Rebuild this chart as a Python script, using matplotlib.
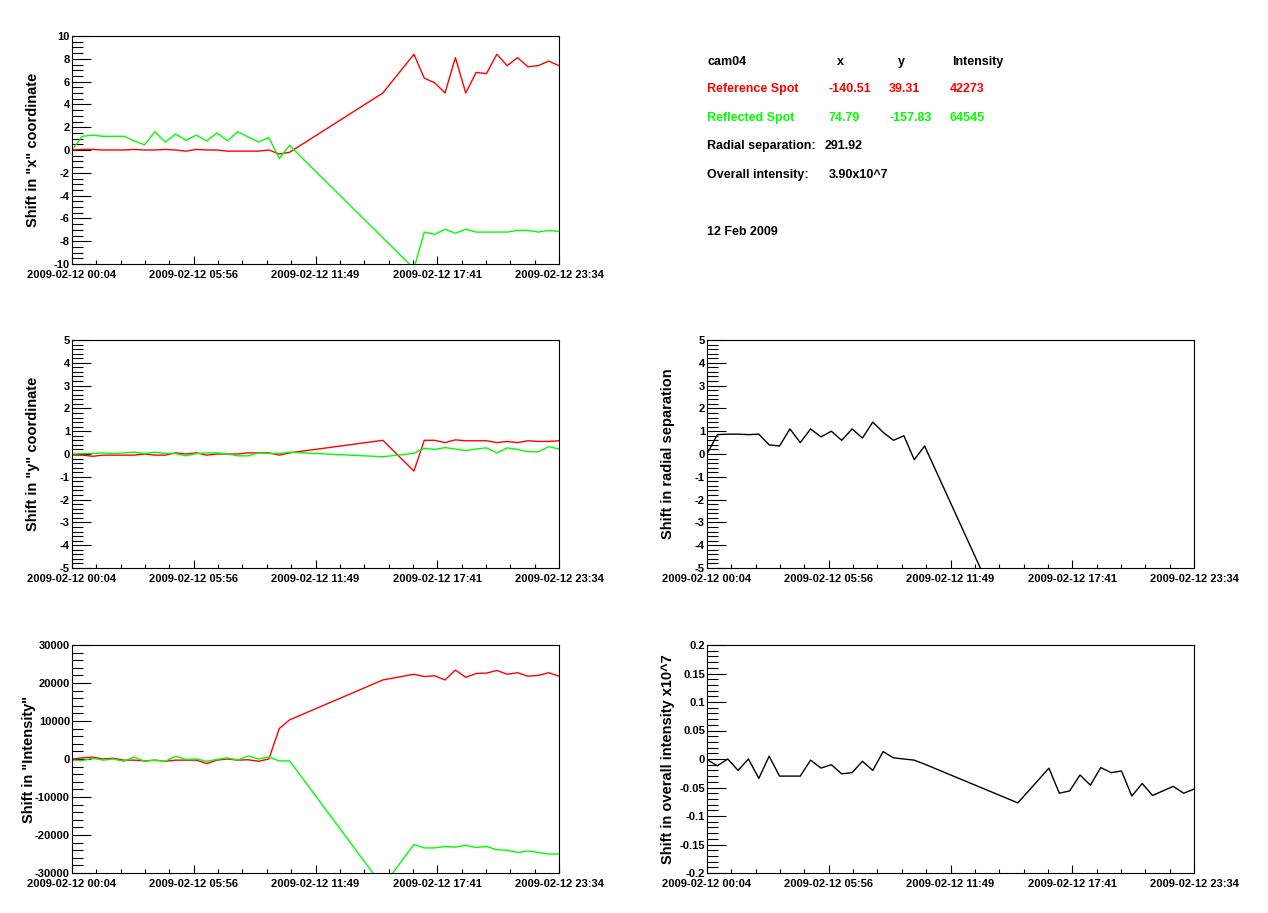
import numpy as np
import matplotlib
matplotlib.use("Agg")
import matplotlib.pyplot as plt
from matplotlib.ticker import MultipleLocator, FixedLocator

plt.rcParams['font.family'] = ['Liberation Sans', 'DejaVu Sans']
plt.rcParams['font.weight'] = 'bold'

# sample times, hours after 2009-02-12 00:04
hours = [0, 0.5, 1, 1.5, 2, 2.5, 3, 3.5, 4, 4.5, 5, 5.5, 6, 6.5, 7, 7.5, 8, 8.5, 9, 9.5, 10, 10.5,
         15, 16.5, 17, 17.5, 18, 18.5, 19, 19.5, 20, 20.5, 21, 21.5, 22, 22.5, 23, 23.5]

ref_x = [0, 0.05, 0.05, 0, 0, 0, 0.05, 0, 0, 0.05, 0, -0.1, 0.05, 0, 0, -0.1, -0.1, -0.1, -0.1, 0, -0.35, -0.2,
         5.0, 8.4, 6.3, 5.9, 5.0, 8.1, 5.0, 6.8, 6.7, 8.4, 7.4, 8.1, 7.3, 7.4, 7.8, 7.4]
refl_x = [0, 1.2, 1.3, 1.2, 1.2, 1.2, 0.8, 0.45, 1.6, 0.7, 1.4, 0.85, 1.3, 0.8, 1.5, 0.8, 1.6, 1.15, 0.7, 1.1, -0.75, 0.4,
          -7.7, -10.4, -7.2, -7.4, -6.95, -7.3, -6.95, -7.2, -7.2, -7.2, -7.2, -7.05, -7.05, -7.2, -7.05, -7.15]

ref_y = [-0.05, -0.05, -0.1, -0.05, -0.05, -0.05, -0.05, 0, -0.05, -0.05, 0.05, 0, 0.05, -0.05, 0, 0, 0, 0.05, 0.05, 0.05, -0.05, 0.05,
         0.6, -0.75, 0.6, 0.6, 0.5, 0.62, 0.58, 0.58, 0.58, 0.5, 0.55, 0.5, 0.58, 0.55, 0.55, 0.58]
refl_y = [0, 0.02, 0.02, 0.05, 0.02, 0.05, 0.08, 0.02, 0.08, 0.02, 0.02, -0.08, 0.02, 0.05, 0.05, 0, -0.08, -0.08, 0.05, 0.02, 0.02, 0.08,
          -0.12, 0.03, 0.25, 0.2, 0.28, 0.22, 0.15, 0.22, 0.27, 0.05, 0.27, 0.2, 0.1, 0.1, 0.32, 0.22]

ref_i = [0, 300, 500, 0, 200, -300, -300, -500, -300, -600, -300, -300, -300, -1200, -300, 0, -300, -200, -600, 0, 8000, 10300,
         20800, 22300, 21700, 21900, 20800, 23400, 21500, 22500, 22600, 23300, 22300, 22700, 21800, 22000, 22700, 21800]
refl_i = [-300, -400, 200, -300, 0, -600, 500, -600, -300, -600, 700, -100, 0, -600, -100, 300, -300, 800, 0, 500, -500, -500,
          -33500, -22500, -23400, -23400, -23000, -23200, -22700, -23300, -23000, -23900, -24000, -24600, -24200, -24600, -25000, -25000]

radial = [0, 0.85, 0.87, 0.87, 0.85, 0.87, 0.4, 0.35, 1.1, 0.5, 1.1, 0.75, 1.0, 0.6, 1.1, 0.7, 1.4, 0.95, 0.6, 0.8, -0.25, 0.35,
          -8.6, -15, -15, -15, -15, -15, -15, -15, -15, -15, -15, -15, -15, -15, -15, -15]
overall = [-0.001, -0.012, 0, -0.02, 0, -0.034, 0.005, -0.03, -0.03, -0.03, -0.002, -0.016, -0.01, -0.026, -0.024, -0.004, -0.02, 0.013, 0.002, 0, -0.002, -0.009,
           -0.077, -0.016, -0.06, -0.056, -0.028, -0.046, -0.015, -0.024, -0.021, -0.065, -0.043, -0.064, -0.056, -0.048, -0.06, -0.053]

tick_hours = [0, 5.875, 11.75, 17.625, 23.5]
tick_labels = ['2009-02-12 00:04', '2009-02-12 05:56', '2009-02-12 11:49', '2009-02-12 17:41', '2009-02-12 23:34']

RED = '#ff0000'
GREEN = '#00ff00'

fig = plt.figure(figsize=(12.68, 9.13), dpi=100)

W = 487 / 1268
H = 228 / 913
lx = 72 / 1268
rx = 707 / 1268
rows = [1 - 264 / 913, 1 - 568 / 913, 1 - 873 / 913]


def setup(ax, ylim, major, minor, ylabel, fmt, labx):
    ax.set_xlim(0, 23.5)
    ax.set_ylim(*ylim)
    ax.xaxis.set_major_locator(FixedLocator(tick_hours))
    ax.xaxis.set_minor_locator(MultipleLocator(23.5 / 20))
    ax.set_xticklabels(tick_labels)
    ax.yaxis.set_major_locator(MultipleLocator(major))
    ax.yaxis.set_minor_locator(MultipleLocator(minor))
    ax.yaxis.set_major_formatter(plt.FuncFormatter(lambda v, p: fmt(v)))
    ax.tick_params(which='both', direction='in', top=False, right=False, labelsize=8, width=0.8)
    ax.tick_params(axis='x', which='major', length=6, pad=4)
    ax.tick_params(axis='x', which='minor', length=3)
    ax.tick_params(axis='y', which='major', length=14, pad=1.5)
    ax.tick_params(axis='y', which='minor', length=8)
    for lab in ax.get_xticklabels() + ax.get_yticklabels():
        lab.set_fontweight('bold')
    ax.set_ylabel(ylabel, fontsize=10.5, fontweight='bold')
    ax.yaxis.set_label_coords(labx, 0.5)
    for s in ax.spines.values():
        s.set_linewidth(0.8)


def ifmt(v):
    return '%g' % round(v, 6)


labl = (40 - 72) / 487
labr = (675 - 707) / 487

ax1 = fig.add_axes([lx, rows[0], W, H])
ax1.plot(hours, ref_x, color=RED, lw=1)
ax1.plot(hours, refl_x, color=GREEN, lw=1)
setup(ax1, (-10, 10), 2, 0.5, 'Shift in "x" coordinate', ifmt, labl)

ax2 = fig.add_axes([lx, rows[1], W, H])
ax2.plot(hours, ref_y, color=RED, lw=1)
ax2.plot(hours, refl_y, color=GREEN, lw=1)
setup(ax2, (-5, 5), 1, 0.2, 'Shift in "y" coordinate', ifmt, labl)

ax3 = fig.add_axes([lx, rows[2], W, H])
ax3.plot(hours, ref_i, color=RED, lw=1)
ax3.plot(hours, refl_i, color=GREEN, lw=1)
setup(ax3, (-30000, 30000), 10000, 2000, 'Shift in "Intensity"', lambda v: '%d' % round(v), (36 - 72) / 487)

ax4 = fig.add_axes([rx, rows[1], W, H])
ax4.plot(hours, radial, color='black', lw=1)
setup(ax4, (-5, 5), 1, 0.2, 'Shift in radial separation', ifmt, labr)

ax5 = fig.add_axes([rx, rows[2], W, H])
ax5.plot(hours, overall, color='black', lw=1)
setup(ax5, (-0.2, 0.2), 0.05, 0.01, 'Shift in overall intensity x10^7', ifmt, labr)


# info panel
def txt(px, py, s, c='black'):
    fig.text(px / 1268, 1 - py / 913, s, color=c, fontsize=9, fontweight='bold', va='center', ha='left')


txt(707, 62, 'cam04')
txt(837, 62, 'x')
txt(898, 62, 'y')
txt(952, 62, 'Intensity')
txt(707, 89, 'Reference Spot', RED)
txt(828, 89, '-140.51', RED)
txt(889, 89, '39.31', RED)
txt(950, 89, '42273', RED)
txt(707, 118, 'Reflected Spot', GREEN)
txt(828, 118, '74.79', GREEN)
txt(889, 118, '-157.83', GREEN)
txt(950, 118, '64545', GREEN)
txt(707, 146, 'Radial separation:')
txt(825, 146, '291.92')
txt(707, 175, 'Overall intensity:')
txt(829, 175, '3.90x10^7')
txt(707, 232, '12 Feb 2009')

fig.savefig('out.png', dpi=100)
